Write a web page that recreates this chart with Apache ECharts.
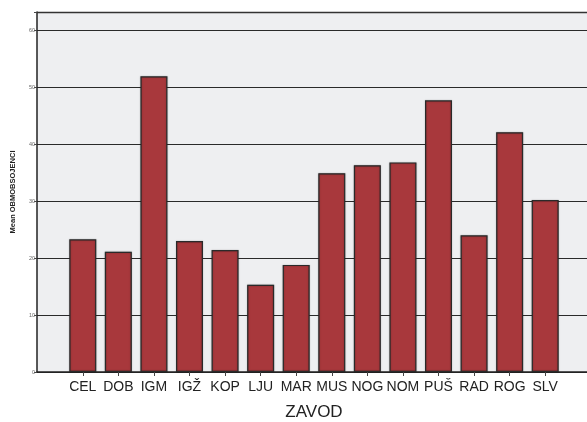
<!DOCTYPE html>
<html><head><meta charset="utf-8">
<script src="https://cdn.jsdelivr.net/npm/echarts@6/dist/echarts.min.js"></script>
<style>html,body{margin:0;padding:0;background:#fff}#c{width:587px;height:422px}</style>
</head><body><div id="c"></div>
<script>
const categories = ["CEL","DOB","IGM","IGŽ","KOP","LJU","MAR","MUS","NOG","NOM","PUŠ","RAD","ROG","SLV"];
const means = [23.3, 21.1, 51.9, 23.0, 21.4, 15.3, 18.8, 34.9, 36.3, 36.8, 47.7, 24.0, 42.1, 30.2];
const yTicks = [0, 10, 20, 30, 40, 50, 60];
const yMax = 63.2;

const chart = echarts.init(document.getElementById('c'), null, {renderer: 'canvas'});
chart.setOption({
  animation: false,
  grid: [
    {left: 37, right: 0, top: 12, bottom: 50, show: true, backgroundColor: '#eeeff1', borderWidth: 0, outerBoundsMode: 'none', containLabel: false},
    {left: 65, right: 24, top: 12, bottom: 50, outerBoundsMode: 'none', containLabel: false}
  ],
  xAxis: [
    {gridIndex: 0, type: 'value', min: 0, max: 1, show: true,
     axisLine: {show: true, onZero: false, lineStyle: {color: '#222', width: 1.5}},
     axisTick: {show: false}, axisLabel: {show: false}, splitLine: {show: false}},
    {gridIndex: 1, type: 'category', data: categories,
     name: 'ZAVOD', nameLocation: 'middle', nameGap: 32,
     nameTextStyle: {fontFamily: 'Liberation Sans, Arial', fontSize: 17, color: '#222'},
     axisLine: {show: false},
     axisTick: {show: true, alignWithLabel: true, length: 4, lineStyle: {color: '#444'}},
     axisLabel: {fontFamily: 'Liberation Sans, Arial', fontSize: 14, color: '#222', margin: 8, interval: 0}}
  ],
  yAxis: [
    {gridIndex: 0, type: 'value', min: 0, max: yMax, interval: 10,
     name: 'Mean OBMOBSOJENCI', nameLocation: 'middle', nameGap: 20, nameRotate: 90,
     nameTextStyle: {fontFamily: 'Liberation Sans, Arial', fontSize: 7.5, fontWeight: 'bold', color: '#222'},
     axisLine: {show: true, lineStyle: {color: '#222', width: 1.5}},
     axisTick: {show: true, length: 3, lineStyle: {color: '#444'}},
     axisLabel: {fontFamily: 'Liberation Sans, Arial', fontSize: 5.5, color: '#666', margin: 2,
       formatter: v => yTicks.includes(v) ? String(v) : ''},
     splitLine: {show: true, lineStyle: {color: '#2a2a2a', width: 1}}},
    {gridIndex: 1, type: 'value', min: 0, max: yMax, show: false}
  ],
  graphic: [
    {type: 'line', shape: {x1: 37, y1: 12.5, x2: 587, y2: 12.5}, style: {stroke: '#333', lineWidth: 1.5}, z: 100}
  ],
  series: [{
    type: 'bar', xAxisIndex: 1, yAxisIndex: 1, data: means, barWidth: 27,
    itemStyle: {color: '#a8383c', borderColor: '#2a2a2a', borderWidth: 1.2,
      shadowColor: 'rgba(0,0,0,0.35)', shadowBlur: 1.5},
    z: 5
  }]
});
</script></body></html>
